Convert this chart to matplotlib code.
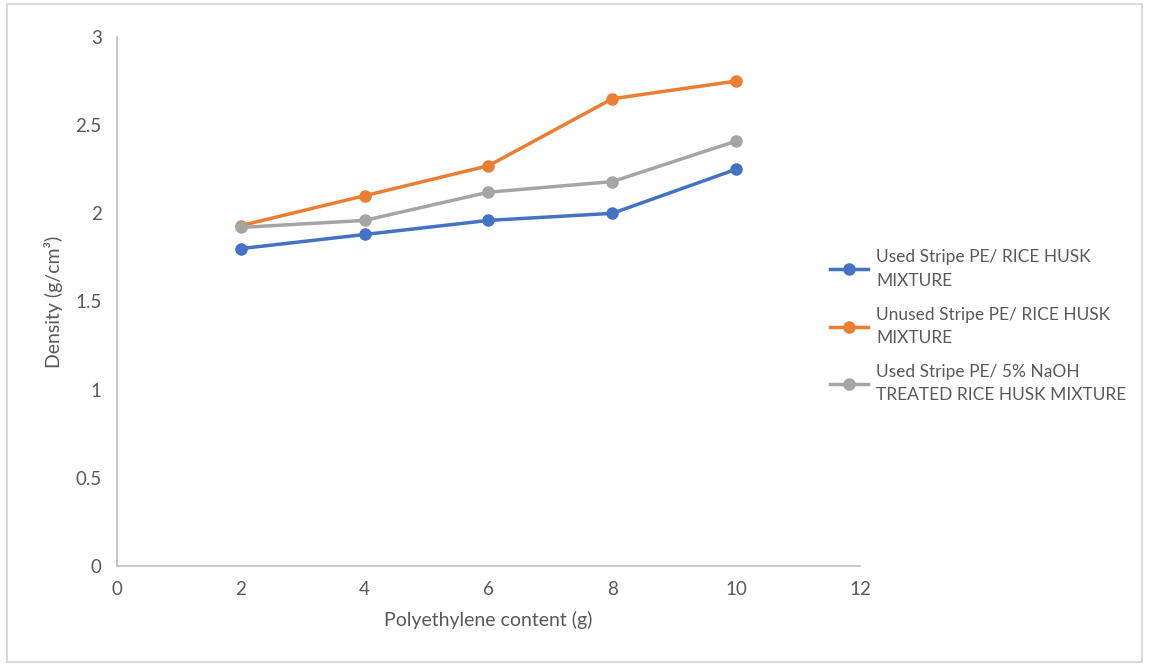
import matplotlib.pyplot as plt
from matplotlib.patches import Rectangle

plt.rcParams['font.family'] = ['Lato', 'DejaVu Sans']

pe_content = [2, 4, 6, 8, 10]
used_rice = [1.80, 1.88, 1.96, 2.00, 2.25]
unused_rice = [1.93, 2.10, 2.27, 2.65, 2.75]
used_naoh = [1.92, 1.96, 2.12, 2.18, 2.41]

labels = ['Used Stripe PE/ RICE HUSK\nMIXTURE',
          'Unused Stripe PE/ RICE HUSK\nMIXTURE',
          'Used Stripe PE/ 5% NaOH\nTREATED RICE HUSK MIXTURE']
colors = ['#4472C4', '#ED7D31', '#A5A5A5']
text_col = '#595959'

fig = plt.figure(figsize=(11.49, 6.66), dpi=100)
ax = fig.add_axes([0.1018, 0.1502, 0.6467, 0.7942])

for ys, c, lab in zip([used_rice, unused_rice, used_naoh], colors, labels):
    ax.plot(pe_content, ys, color=c, lw=2.5, marker='o', ms=8, label=lab)

ax.set_xlim(0, 12)
ax.set_ylim(0, 3)
ax.set_xticks(range(0, 13, 2))
ax.set_yticks([0, 0.5, 1, 1.5, 2, 2.5, 3])
ax.set_yticklabels(['0', '0.5', '1', '1.5', '2', '2.5', '3'])
for s in ['top', 'right']:
    ax.spines[s].set_visible(False)
for s in ['left', 'bottom']:
    ax.spines[s].set_color('#BFBFBF')
    ax.spines[s].set_linewidth(1.2)
ax.tick_params(length=0, labelsize=13.5, colors=text_col, pad=11)
ax.set_xlabel('Polyethylene content (g)', fontsize=14, color=text_col, labelpad=9)
ax.set_ylabel('Density (g/cm³)', fontsize=14, color=text_col, labelpad=9)

leg = fig.legend(loc='center left', bbox_to_anchor=(0.709, 0.51), frameon=False,
                 fontsize=12.5, labelcolor=text_col, handlelength=2.2,
                 labelspacing=1.05, handletextpad=0.45)
for t in leg.get_texts():
    t.set_linespacing(1.55)

fig.patches.append(Rectangle((0.006, 0.006), 0.988, 0.988, transform=fig.transFigure,
                             fill=False, edgecolor='#D9D9D9', lw=1.5))

plt.savefig('out.png')
